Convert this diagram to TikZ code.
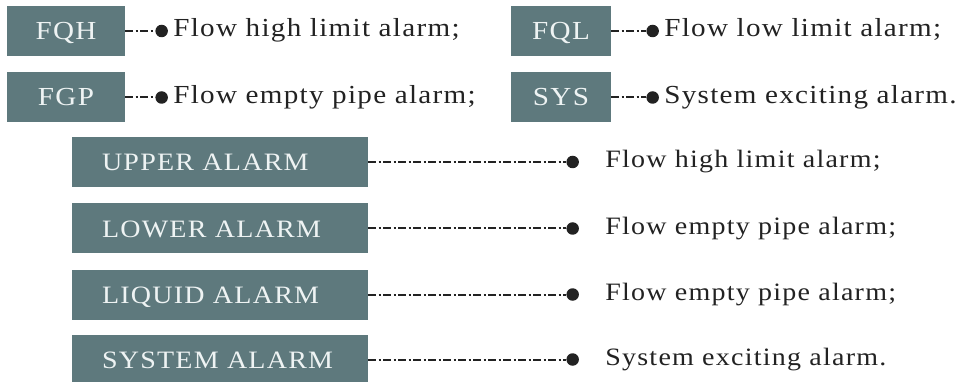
\documentclass[tikz,border=0pt]{standalone}
\usepackage{fontspec}
\usetikzlibrary{positioning}
\setmainfont{Liberation Serif}
\newfontfamily\alarmfont[LetterSpace=5, FakeStretch=1.12]{Liberation Serif}
\definecolor{tagfill}{HTML}{5E797D}
\definecolor{tagtext}{HTML}{EEF3F3}
\definecolor{inktext}{HTML}{222222}

\begin{document}
\begin{tikzpicture}[x=1pt, y=-1pt,
      tag/.style={rectangle, fill=tagfill, text=tagtext, minimum height=50pt,
                  inner sep=0pt, text height=17pt, text depth=0pt,
                  font=\alarmfont\fontsize{26}{30}\selectfont},
      widetag/.style={tag, minimum width=296pt, text width=236pt, align=left,
                      font=\alarmfont\fontsize{25}{30}\selectfont},
      dot/.style={circle, fill=inktext, minimum size=12.5pt, inner sep=0pt},
      link/.style={draw=inktext, line width=2pt,
                   dash pattern=on 8pt off 2.5pt on 2pt off 2.5pt},
      note/.style={inner sep=0pt, text=inktext, text height=17pt, text depth=5.5pt,
                   font=\alarmfont\fontsize{26}{30}\selectfont},
      longnote/.style={note, font=\alarmfont\fontsize{25}{30}\selectfont},
    ]
      \useasboundingbox (0,0) rectangle (972,382);

      % short codes
      \node[tag, minimum width=118pt] (fqh) at (66,31) {FQH};
      \node[dot, right=30pt of fqh] (fqhdot) {};
      \node[note, right=5pt of fqhdot] (fqhnote) {Flow high limit alarm;};

      \node[tag, minimum width=118pt] (fgp) at (66,97.5) {FGP};
      \node[dot, right=30pt of fgp] (fgpdot) {};
      \node[note, right=5pt of fgpdot] (fgpnote) {Flow empty pipe alarm;};

      \node[tag, minimum width=100pt] (fql) at (561,31) {FQL};
      \node[dot, right=35pt of fql] (fqldot) {};
      \node[note, right=5pt of fqldot] (fqlnote) {Flow low limit alarm;};

      \node[tag, minimum width=100pt] (sys) at (561,97.5) {SYS};
      \node[dot, right=35pt of sys] (sysdot) {};
      \node[note, right=5pt of sysdot] (sysnote) {System exciting alarm.};

      \draw[link] (fqh) -- (fqhdot);
      \draw[link] (fgp) -- (fgpdot);
      \draw[link] (fql) -- (fqldot);
      \draw[link] (sys) -- (sysdot);

      % long names
      \node[widetag] (upper) at (220,162) {UPPER ALARM};
      \node[dot, right=198pt of upper] (upperdot) {};
      \node[longnote, right=26pt of upperdot] (uppernote) {Flow high limit alarm;};

      \node[widetag] (lower) at (220,228.5) {LOWER ALARM};
      \node[dot, right=198pt of lower] (lowerdot) {};
      \node[longnote, right=26pt of lowerdot] (lowernote) {Flow empty pipe alarm;};

      \node[widetag] (liquid) at (220,294.5) {LIQUID ALARM};
      \node[dot, right=198pt of liquid] (liquiddot) {};
      \node[longnote, right=26pt of liquiddot] (liquidnote) {Flow empty pipe alarm;};

      \node[widetag] (system) at (220,359.5) {SYSTEM ALARM};
      \node[dot, right=198pt of system] (systemdot) {};
      \node[longnote, right=26pt of systemdot] (systemnote) {System exciting alarm.};

      \draw[link] (upper) -- (upperdot);
      \draw[link] (lower) -- (lowerdot);
      \draw[link] (liquid) -- (liquiddot);
      \draw[link] (system) -- (systemdot);
    \end{tikzpicture}
\end{document}
